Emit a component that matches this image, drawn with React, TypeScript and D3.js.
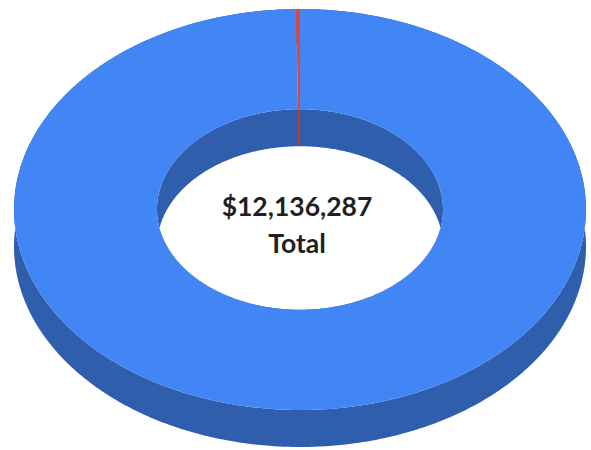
import React from "react";
import * as d3 from "d3";

const categories = ["Blue", "Red"];
const values = [12109787, 26500];
const topColors = ["#4285F4", "#E0453A"];
const sideColors = ["#2F5EAD", "#B8352C"];
const totalLabel = "$12,136,287";
const subLabel = "Total";

const W = 591;
const H = 450;
const CX = 300;
const CY = 209.5;
const RX = 286;
const RY = 200.5;
const DEPTH = 37;
const INNER = 0.5;

function pt(a: number, rx: number, ry: number, dy = 0): [number, number] {
  return [CX + rx * Math.sin(a), CY - ry * Math.cos(a) + dy];
}

function arcPoints(a0: number, a1: number, rx: number, ry: number, dy = 0) {
  const n = Math.max(2, Math.ceil(Math.abs(a1 - a0) / 0.01));
  const pts: [number, number][] = [];
  for (let i = 0; i <= n; i++) {
    const a = a0 + ((a1 - a0) * i) / n;
    pts.push(pt(a, rx, ry, dy));
  }
  return pts;
}

function toPath(pts: [number, number][]) {
  return "M" + pts.map((p) => p[0].toFixed(2) + "," + p[1].toFixed(2)).join("L") + "Z";
}

function topPath(a0: number, a1: number) {
  const outer = arcPoints(a0, a1, RX, RY);
  const inner = arcPoints(a1, a0, RX * INNER, RY * INNER);
  return toPath([...outer, ...inner]);
}

function outerWall(a0: number, a1: number) {
  const top = arcPoints(a0, a1, RX, RY);
  const bot = arcPoints(a1, a0, RX, RY, DEPTH);
  return toPath([...top, ...bot]);
}

function innerWall(a0: number, a1: number) {
  const top = arcPoints(a0, a1, RX * INNER, RY * INNER);
  const bot = arcPoints(a1, a0, RX * INNER, RY * INNER, DEPTH);
  return toPath([...top, ...bot]);
}

export default function App() {
  const pie = d3
    .pie<number>()
    .sort(null)
    .startAngle(0)
    .endAngle(2 * Math.PI);
  const arcs = pie(values);

  return (
    <svg
      width={W}
      height={H}
      style={{ position: "absolute", left: 0, top: 0, background: "#fff" }}
    >
      <g>
        {arcs.map((d, i) => (
          <path key={"iw" + i} d={innerWall(d.startAngle, d.endAngle)} fill={sideColors[i]} />
        ))}
      </g>
      <g>
        {arcs.map((d, i) => (
          <path key={"ow" + i} d={outerWall(d.startAngle, d.endAngle)} fill={sideColors[i]} />
        ))}
      </g>
      <g>
        {arcs.map((d, i) => (
          <path
            key={"t" + i}
            d={topPath(d.startAngle, d.endAngle)}
            fill={topColors[i]}
            data-category={categories[i]}
          />
        ))}
      </g>
      <text
        x={CX - 3}
        y={216}
        textAnchor="middle"
        fontFamily="Lato, 'Open Sans', sans-serif"
        fontWeight={700}
        fontSize={26.5}
        fill="#231F20"
      >
        {totalLabel}
      </text>
      <text
        x={CX - 3}
        y={253}
        textAnchor="middle"
        fontFamily="Lato, 'Open Sans', sans-serif"
        fontWeight={700}
        fontSize={26.5}
        fill="#231F20"
      >
        {subLabel}
      </text>
    </svg>
  );
}
